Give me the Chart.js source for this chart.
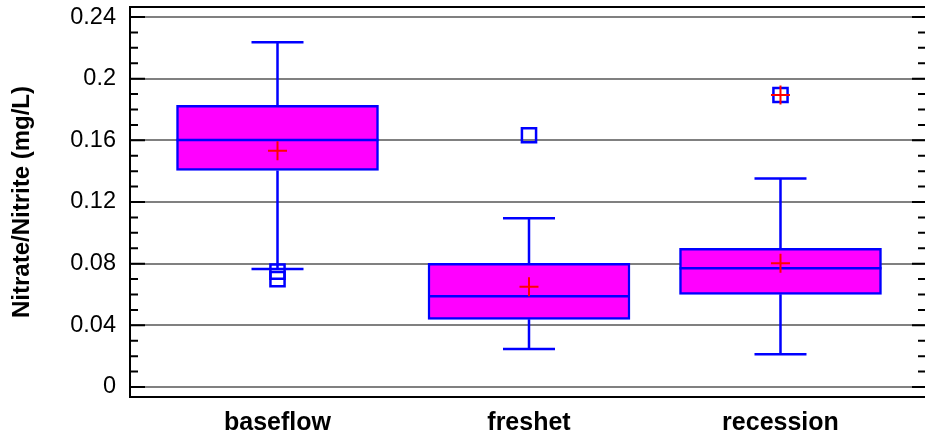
<!DOCTYPE html>
<html>
<head>
<meta charset="utf-8">
<script src="https://cdn.jsdelivr.net/npm/chart.js@4.4.1/dist/chart.umd.min.js"></script>
<style>
  body { margin: 0; background: #fff; }
  #wrap { width: 925px; height: 433px; }
</style>
</head>
<body>
<div id="wrap"><canvas id="chart" width="925" height="433"></canvas></div>
<script>
// box plot values
const categories = ['baseflow', 'freshet', 'recession'];
const whiskerLow = [0.0765, 0.0246, 0.0212];
const q1 = [0.1405, 0.0439, 0.0601];
const median = [0.1602, 0.0588, 0.0770];
const q3 = [0.1827, 0.0802, 0.0900];
const whiskerHigh = [0.2236, 0.1094, 0.1353];
const means = [0.1533, 0.0650, 0.0802];
const outlierCat = [0, 0, 1, 2];
const outlierVal = [0.0748, 0.0700, 0.1633, 0.1894];
const farOutlierCat = [2];
const farOutlierVal = [0.1894];

const yTicks = [0, 0.04, 0.08, 0.12, 0.16, 0.2, 0.24];
const yTickLabels = ['0', '0.04', '0.08', '0.12', '0.16', '0.2', '0.24'];
const yMinorTicks = [0.01, 0.02, 0.03, 0.05, 0.06, 0.07, 0.09, 0.1, 0.11,
                     0.13, 0.14, 0.15, 0.17, 0.18, 0.19, 0.21, 0.22, 0.23];

const BLUE = '#0000ff';
const RED = '#ff0000';

// whiskers + median line, drawn right after the boxes
const boxExtras = {
    id: 'boxExtras',
    afterDatasetDraw(chart, args) {
        if (args.index !== 0) return;
        const ctx = chart.ctx;
        const x = chart.scales.x, y = chart.scales.y;
        const bars = args.meta.data;
        ctx.save();
        ctx.strokeStyle = BLUE;
        ctx.lineWidth = 2.5;
        categories.forEach((c, i) => {
            const cx = x.getPixelForValue(i);
            const capHalf = 26;
            ctx.beginPath();
            ctx.moveTo(cx, y.getPixelForValue(q3[i]));
            ctx.lineTo(cx, y.getPixelForValue(whiskerHigh[i]));
            ctx.moveTo(cx - capHalf, y.getPixelForValue(whiskerHigh[i]));
            ctx.lineTo(cx + capHalf, y.getPixelForValue(whiskerHigh[i]));
            ctx.moveTo(cx, y.getPixelForValue(q1[i]));
            ctx.lineTo(cx, y.getPixelForValue(whiskerLow[i]));
            ctx.moveTo(cx - capHalf, y.getPixelForValue(whiskerLow[i]));
            ctx.lineTo(cx + capHalf, y.getPixelForValue(whiskerLow[i]));
            const b = bars[i];
            const my = y.getPixelForValue(median[i]);
            ctx.moveTo(b.x - b.width / 2, my);
            ctx.lineTo(b.x + b.width / 2, my);
            ctx.stroke();
        });
        ctx.restore();
    }
};

// black frame and the inward tick marks
const frame = {
    id: 'frame',
    afterDraw(chart) {
        const ctx = chart.ctx;
        const a = chart.chartArea;
        const y = chart.scales.y;
        ctx.save();
        ctx.strokeStyle = '#000';
        ctx.lineWidth = 2;
        ctx.beginPath();
        ctx.moveTo(a.right + 2, a.top);
        ctx.lineTo(a.left, a.top);
        ctx.lineTo(a.left, a.bottom);
        ctx.lineTo(a.right + 2, a.bottom);
        yTicks.forEach(v => {
            const py = y.getPixelForValue(v);
            ctx.moveTo(a.left, py); ctx.lineTo(a.left + 15, py);
            ctx.moveTo(a.right + 1, py); ctx.lineTo(a.right - 13, py);
        });
        yMinorTicks.forEach(v => {
            const py = y.getPixelForValue(v);
            ctx.moveTo(a.left, py); ctx.lineTo(a.left + 8, py);
            ctx.moveTo(a.right + 1, py); ctx.lineTo(a.right - 7, py);
        });
        ctx.stroke();
        ctx.restore();
    }
};

new Chart(document.getElementById('chart'), {
    type: 'bar',
    data: {
        datasets: [
            {
                type: 'bar',
                order: 3,
                data: categories.map((c, i) => ({ x: i, y: [q1[i], q3[i]] })),
                backgroundColor: '#ff00ff',
                borderColor: BLUE,
                borderWidth: 2.5,
                borderSkipped: false,
                barThickness: 202
            },
            {
                type: 'scatter',
                order: 2,
                data: outlierVal.map((v, i) => ({ x: outlierCat[i], y: v })),
                pointStyle: 'rect',
                radius: 10,
                borderColor: BLUE,
                borderWidth: 2.5,
                backgroundColor: 'rgba(0,0,0,0)'
            },
            {
                type: 'scatter',
                order: 1,
                data: means.map((v, i) => ({ x: i, y: v })),
                pointStyle: 'cross',
                radius: 9.5,
                borderColor: RED,
                borderWidth: 2
            },
            {
                type: 'scatter',
                order: 0,
                data: farOutlierVal.map((v, i) => ({ x: farOutlierCat[i], y: v })),
                pointStyle: 'cross',
                radius: 9.5,
                borderColor: RED,
                borderWidth: 2
            }
        ]
    },
    options: {
        responsive: false,
        animation: false,
        layout: { autoPadding: false, padding: { top: 7, right: 0, left: 0, bottom: 0 } },
        plugins: { legend: { display: false }, tooltip: { enabled: false } },
        scales: {
            x: {
                type: 'linear',
                offset: false,
                min: -0.5865,
                max: 2.5746,
                grid: { display: false },
                border: { display: false },
                afterBuildTicks: s => { s.ticks = categories.map((c, i) => ({ value: i })); },
                afterFit: s => { s.height = 36; s.paddingLeft = 0; s.paddingRight = 0; },
                ticks: {
                    padding: 3,
                    maxRotation: 0,
                    color: '#000',
                    font: { family: 'Liberation Sans, Arial, sans-serif', size: 25, weight: 'bold' },
                    callback: v => categories[v]
                }
            },
            y: {
                min: -0.00649,
                max: 0.2465,
                grid: { color: '#808080', lineWidth: 2, drawTicks: false },
                border: { display: false },
                afterBuildTicks: s => { s.ticks = yTicks.map(v => ({ value: v })); },
                afterFit: s => { s.width = 130; s.paddingTop = 0; s.paddingBottom = 0; },
                ticks: {
                    padding: 14,
                    color: '#000',
                    font: { family: 'Liberation Sans, Arial, sans-serif', size: 23.5 },
                    callback: v => yTickLabels[yTicks.indexOf(v)]
                },
                title: {
                    display: true,
                    text: 'Nitrate/Nitrite (mg/L)',
                    color: '#000',
                    padding: { top: 8, bottom: 0 },
                    font: { family: 'Liberation Sans, Arial, sans-serif', size: 24, weight: 'bold' }
                }
            }
        }
    },
    plugins: [boxExtras, frame]
});
</script>
</body>
</html>
